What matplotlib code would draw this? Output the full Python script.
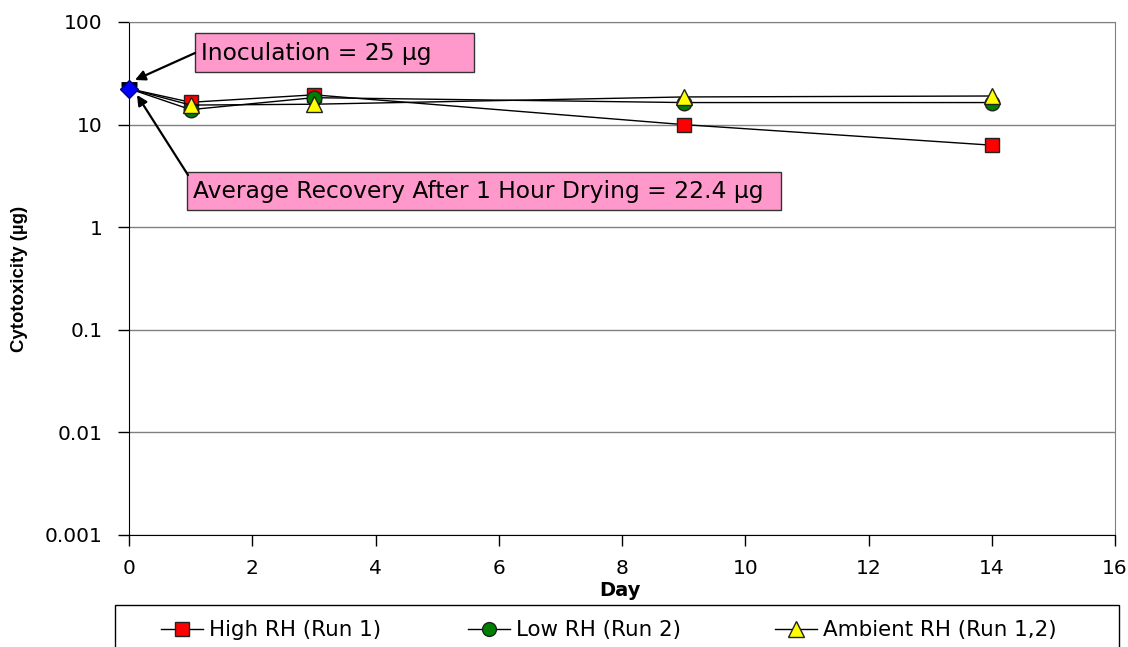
import matplotlib
matplotlib.use("Agg")
import matplotlib.pyplot as plt
from matplotlib.patches import Rectangle, FancyArrowPatch

plt.rcParams["font.family"] = ["DejaVu Sans"]

days = [0, 1, 3, 9, 14]
high_rh = [22.4, 16.5, 19.5, 10.0, 6.3]
low_rh = [22.4, 14.0, 18.3, 16.4, 16.4]
ambient_rh = [22.4, 15.5, 15.8, 18.6, 19.0]
recovery = 22.4
inoculation = 25

W, H = 1128, 647


def px(x, y):
    # pixel position (from top-left) -> figure fraction
    return x / W, 1 - y / H


fig = plt.figure(figsize=(W / 100, H / 100), dpi=100)
ax = fig.add_axes([129 / W, 1 - 535 / H, (1115 - 129) / W, (535 - 22) / H])

ax.set_yscale("log")
ax.set_ylim(0.001, 100)
ax.set_xlim(0, 16)
ax.set_xticks(range(0, 17, 2))
ax.set_yticks([0.001, 0.01, 0.1, 1, 10, 100])
ax.set_yticklabels(["0.001", "0.01", "0.1", "1", "10", "100"])
ax.minorticks_off()
ax.tick_params(axis="both", direction="out", length=8, width=1, labelsize=14.5, color="black")
ax.tick_params(axis="y", pad=11)
ax.tick_params(axis="x", pad=9)
ax.yaxis.grid(True, color="#808080", lw=1)
ax.set_axisbelow(True)
ax.spines["left"].set_color("black")
ax.spines["bottom"].set_color("black")
ax.spines["top"].set_color("#808080")
ax.spines["right"].set_color("#808080")

ax.set_xlabel("Day", fontsize=14, fontweight="bold")
ax.xaxis.set_label_coords((620 - 129) / 986, (535 - 581) / 513)
ax.set_ylabel("Cytotoxicity (µg)", fontsize=13.4, fontweight="bold",
              family=["Liberation Sans", "DejaVu Sans"])
ax.yaxis.set_label_coords((20 - 129) / 986, 0.5)
ax.yaxis.label.set_va("center")

styles = [
    dict(marker="s", ms=10.5, mfc="#ff0000"),
    dict(marker="o", ms=10.5, mfc="#007f00"),
    dict(marker="^", ms=12, mfc="#ffff00"),
]
series = [high_rh, low_rh, ambient_rh]
names = ["High RH (Run 1)", "Low RH (Run 2)", "Ambient RH (Run 1,2)"]
handles = []
for i, (vals, st, name) in enumerate(zip(series, styles, names)):
    h, = ax.plot(days, vals, color="black", lw=1.0, mec="#222222", mew=1,
                 markevery=slice(1, None), label=name, zorder=3 + i, clip_on=False, **st)
    handles.append(h)

# inoculation dose and recovery after drying at day 0
ax.plot([0], [inoculation], marker="_", ms=12, mew=3.5, color="black", zorder=6, clip_on=False)
ax.plot([0], [recovery], marker="D", ms=9.5, mfc="#0000ff", mec="#000080", mew=1,
        zorder=7, clip_on=False)

# annotation boxes
for (x0, y0, x1, y1), txt in [((195, 33, 474, 72), "Inoculation = 25 µg"),
                               ((187, 172, 781, 210), "Average Recovery After 1 Hour Drying = 22.4 µg")]:
    fx, fy = px(x0, y1)
    fig.add_artist(Rectangle((fx, fy), (x1 - x0) / W, (y1 - y0) / H, transform=fig.transFigure,
                             fc="#ff99cc", ec="#333333", lw=1, zorder=5))
    tx, ty = px(x0 + 6, (y0 + y1) / 2 + 1)
    fig.text(tx, ty, txt, fontsize=16.8, ha="left", va="center", zorder=6)

for start, end in [((195, 53), (135, 80)), ((188, 175), (137, 95))]:
    fig.add_artist(FancyArrowPatch(px(*start), px(*end), transform=fig.transFigure,
                                   arrowstyle="-|>", mutation_scale=15, color="black",
                                   lw=1.6, shrinkA=0, shrinkB=0, zorder=7))

# legend frame running off the bottom edge
lx, ly = px(115, 647 + 20)
fig.add_artist(Rectangle((lx, ly), (1119 - 115) / W, (20 + 647 - 605) / H, transform=fig.transFigure,
                         fc="white", ec="black", lw=1, zorder=1, clip_on=False))
for h, cx in zip(handles, [182, 489, 796]):
    leg = fig.legend(handles=[h], loc="center left", bbox_to_anchor=px(cx - 21, 630),
                     frameon=False, fontsize=15.4, handlelength=1.96, handletextpad=0.3,
                     borderpad=0, borderaxespad=0, markerscale=0.95)
    leg.set_zorder(2)

fig.savefig("out.png", dpi=100)
